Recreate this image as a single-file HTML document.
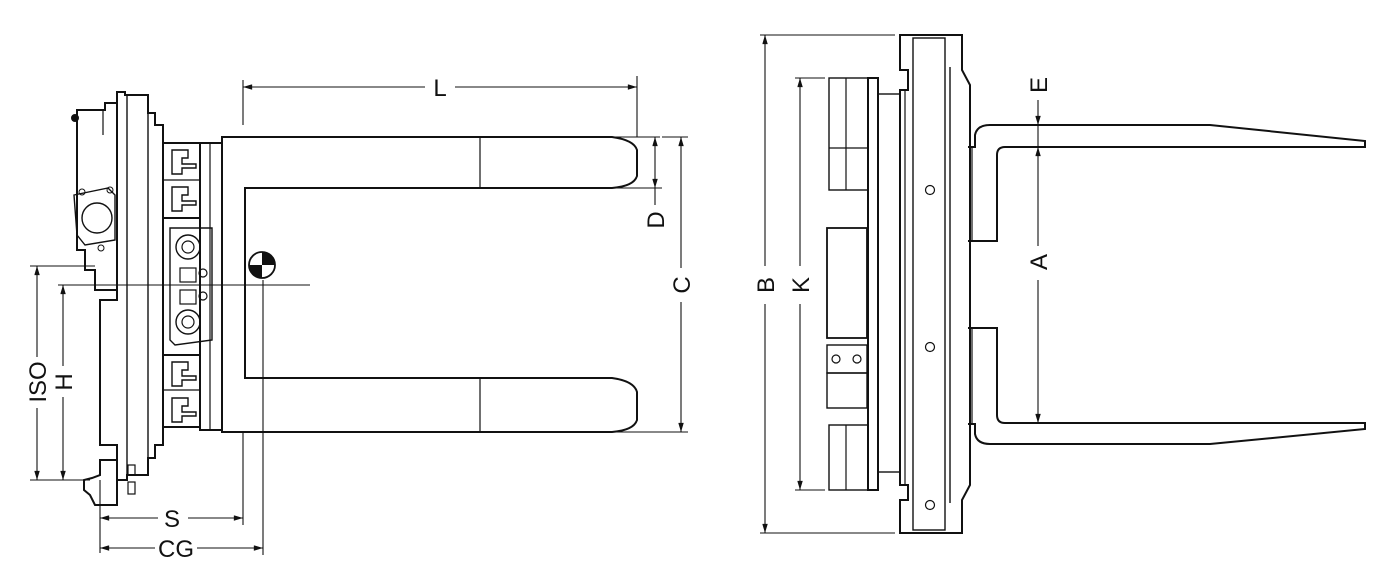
<!DOCTYPE html>
<html><head><meta charset="utf-8"><style>
html,body{margin:0;padding:0;background:#fff;width:1400px;height:585px;overflow:hidden}
svg{display:block}
text{font-family:"Liberation Sans",sans-serif;font-size:24px;fill:#111}
</style></head><body>
<svg width="1400" height="585" viewBox="0 0 1400 585" xmlns="http://www.w3.org/2000/svg">
<defs>
<marker id="a" viewBox="0 0 10 6" refX="10" refY="3" markerWidth="9" markerHeight="5" orient="auto-start-reverse"><path d="M0,0L10,3L0,6z" fill="#111"/></marker>
</defs>
<g fill="none" stroke="#111" stroke-width="2">
<path d="M77,110 L105,110 L105,103 L117,103 L117,290 L95,290 L95,270 L85,270 L85,250 L77,250 Z"/>
<circle cx="75" cy="118" r="3" fill="#111"/>
<path d="M74,195 L108,188 L115,195 L115,240 L85,245 L77,235 Z" stroke-width="1.4"/>
<circle cx="97" cy="218" r="15" stroke-width="1.4"/>
<circle cx="82" cy="192" r="3" stroke-width="1"/><circle cx="110" cy="190" r="3" stroke-width="1"/><circle cx="101" cy="248" r="3" stroke-width="1"/>
<line x1="103" y1="110" x2="103" y2="135" stroke-width="1.2"/>
<path d="M117,92 L125,92 L125,95 L148,95 L148,113 L155,113 L155,125 L163,125 L163,445 L155,445 L155,458 L148,458 L148,475 L127,475 L127,480 L117,480 L117,445 L100,445 L100,300 L117,300 Z"/>
<line x1="127" y1="95" x2="127" y2="475" stroke-width="1.4"/>
<line x1="148" y1="113" x2="148" y2="458" stroke-width="1.4"/>
<path d="M100,460 L117,460 L117,505 L95,505 L90,495 L84,490 L84,480 L92,478 L100,475 Z"/>
<rect x="128" y="465" width="7" height="10" stroke-width="1.2"/><rect x="128" y="482" width="7" height="12" stroke-width="1.2"/>
<rect x="163" y="143" width="37" height="75"/>
<line x1="163" y1="180" x2="200" y2="180" stroke-width="1.2"/>
<path d="M172,150 h16 v8 h-6 v6 h14 v4 h-14 v6 h-10 z" stroke-width="1.4"/>
<path d="M172,187 h16 v8 h-6 v6 h14 v4 h-14 v6 h-10 z" stroke-width="1.4"/>
<rect x="163" y="355" width="37" height="72"/>
<line x1="163" y1="390" x2="200" y2="390" stroke-width="1.2"/>
<path d="M172,362 h16 v8 h-6 v6 h14 v4 h-14 v6 h-10 z" stroke-width="1.4"/>
<path d="M172,398 h16 v8 h-6 v6 h14 v4 h-14 v6 h-10 z" stroke-width="1.4"/>
<path d="M170,228 L212,228 L212,340 L175,345 L170,340 Z" stroke-width="1.4"/>
<circle cx="188" cy="247" r="12" stroke-width="1.4"/><circle cx="188" cy="247" r="6" stroke-width="1.2"/>
<circle cx="188" cy="322" r="12" stroke-width="1.4"/><circle cx="188" cy="322" r="6" stroke-width="1.2"/>
<rect x="180" y="268" width="16" height="14" stroke-width="1.2"/><circle cx="203" cy="273" r="4" stroke-width="1.2"/>
<rect x="180" y="290" width="16" height="14" stroke-width="1.2"/><circle cx="203" cy="296" r="4" stroke-width="1.2"/>
<rect x="200" y="143" width="22" height="287"/>
<line x1="210" y1="143" x2="210" y2="430" stroke-width="1.2"/>
<path d="M222,137 L612,137 Q634,140 637,150 L637,176 Q634,186 612,188 L245,188 L245,378 L612,378 Q634,381 637,392 L637,420 Q634,430 612,432 L222,432 Z"/>
<line x1="480" y1="137" x2="480" y2="188" stroke-width="1.2"/>
<line x1="480" y1="378" x2="480" y2="432" stroke-width="1.2"/>
</g>
<circle cx="262" cy="265" r="13" fill="#fff" stroke="#111" stroke-width="1.8"/>
<path d="M262,252 A13,13 0 0 1 275,265 L262,265 Z" fill="#111"/>
<path d="M262,278 A13,13 0 0 1 249,265 L262,265 Z" fill="#111"/>
<g fill="none" stroke="#111" stroke-width="1.1">
<line x1="30" y1="266" x2="95" y2="266"/>
<line x1="58" y1="285" x2="310" y2="285"/>
<line x1="30" y1="480" x2="90" y2="480"/>
<line x1="243" y1="80" x2="243" y2="125"/><line x1="637" y1="76" x2="637" y2="137"/>
<line x1="243" y1="87" x2="425" y2="87" marker-start="url(#a)"/><line x1="455" y1="87" x2="637" y2="87" marker-end="url(#a)"/>
<line x1="615" y1="137" x2="660" y2="137"/><line x1="615" y1="188" x2="662" y2="188"/>
<line x1="655" y1="137" x2="655" y2="188" marker-start="url(#a)" marker-end="url(#a)"/>
<line x1="655" y1="188" x2="655" y2="205"/>
<line x1="662" y1="137" x2="688" y2="137"/><line x1="615" y1="432" x2="688" y2="432"/>
<line x1="681" y1="137" x2="681" y2="268" marker-start="url(#a)"/><line x1="681" y1="302" x2="681" y2="432" marker-end="url(#a)"/>
<line x1="37" y1="266" x2="37" y2="357" marker-start="url(#a)"/><line x1="37" y1="408" x2="37" y2="480" marker-end="url(#a)"/>
<line x1="63" y1="285" x2="63" y2="366" marker-start="url(#a)"/><line x1="63" y1="397" x2="63" y2="480" marker-end="url(#a)"/>
<line x1="100" y1="480" x2="100" y2="553"/>
<line x1="243" y1="432" x2="243" y2="525"/>
<line x1="263" y1="280" x2="263" y2="555"/>
<line x1="100" y1="518" x2="158" y2="518" marker-start="url(#a)"/><line x1="188" y1="518" x2="243" y2="518" marker-end="url(#a)"/>
<line x1="100" y1="548" x2="155" y2="548" marker-start="url(#a)"/><line x1="197" y1="548" x2="263" y2="548" marker-end="url(#a)"/>
</g>
<text x="440" y="96" text-anchor="middle">L</text>
<text x="172" y="527" text-anchor="middle">S</text>
<text x="176" y="557" text-anchor="middle">CG</text>
<text transform="translate(664,220) rotate(-90)" text-anchor="middle">D</text>
<text transform="translate(690,285) rotate(-90)" text-anchor="middle">C</text>
<text transform="translate(46,382) rotate(-90)" text-anchor="middle">ISO</text>
<text transform="translate(72,382) rotate(-90)" text-anchor="middle">H</text>

<g fill="none" stroke="#111" stroke-width="2">
<path d="M900,35 L962,35 L962,70 L970,85 L970,485 L962,500 L962,533 L900,533 L900,500 L908,500 L908,485 L900,485 L900,90 L908,90 L908,70 L900,70 Z"/>
<rect x="913" y="38" width="32" height="492" stroke-width="1.4"/>
<line x1="950" y1="67" x2="950" y2="503" stroke-width="1.4"/>
<line x1="905" y1="90" x2="905" y2="485" stroke-width="1.2"/>
<circle cx="930" cy="190" r="4.5" stroke-width="1.2"/><circle cx="930" cy="347" r="4.5" stroke-width="1.2"/><circle cx="930" cy="505" r="4.5" stroke-width="1.2"/>
<rect x="868" y="78" width="10" height="412"/>
<rect x="878" y="94" width="22" height="378" stroke-width="1.4"/>
<rect x="829" y="78" width="39" height="112" stroke-width="1.4"/>
<line x1="846" y1="78" x2="846" y2="190" stroke-width="1.2"/><line x1="829" y1="148" x2="868" y2="148" stroke-width="1.2"/>
<rect x="829" y="425" width="39" height="65" stroke-width="1.4"/>
<line x1="846" y1="425" x2="846" y2="490" stroke-width="1.2"/>
<rect x="827" y="228" width="40" height="110" stroke-width="1.8"/>
<rect x="827" y="345" width="40" height="28" stroke-width="1.4"/>
<circle cx="836" cy="359" r="4" stroke-width="1.2"/><circle cx="857" cy="359" r="4" stroke-width="1.2"/>
<rect x="827" y="373" width="40" height="35" stroke-width="1.4"/>
<path d="M968,147 L975,147 L975,135 Q977,125 990,125 L1210,125 L1365,141 L1365,147 L1005,147 Q997,147 997,155 L997,241 L968,241"/>
<path d="M968,328 L997,328 L997,415 Q997,423 1005,423 L1365,423 L1365,429 L1210,444 L990,444 Q977,444 975,434 L975,424 L968,424"/>
<line x1="972" y1="147" x2="972" y2="241" stroke-width="1.2"/>
<line x1="972" y1="328" x2="972" y2="424" stroke-width="1.2"/>
</g>
<g fill="none" stroke="#111" stroke-width="1.1">
<line x1="760" y1="35" x2="895" y2="35"/><line x1="760" y1="533" x2="895" y2="533"/>
<line x1="765" y1="35" x2="765" y2="266" marker-start="url(#a)"/><line x1="765" y1="304" x2="765" y2="533" marker-end="url(#a)"/>
<line x1="795" y1="78" x2="825" y2="78"/><line x1="795" y1="490" x2="825" y2="490"/>
<line x1="800" y1="78" x2="800" y2="266" marker-start="url(#a)"/><line x1="800" y1="304" x2="800" y2="490" marker-end="url(#a)"/>
<line x1="1038" y1="100" x2="1038" y2="125" marker-end="url(#a)"/>
<line x1="1038" y1="125" x2="1038" y2="147"/>
<line x1="1038" y1="147" x2="1038" y2="246" marker-start="url(#a)"/><line x1="1038" y1="280" x2="1038" y2="423" marker-end="url(#a)"/>
</g>
<text transform="translate(774,285) rotate(-90)" text-anchor="middle">B</text>
<text transform="translate(809,285) rotate(-90)" text-anchor="middle">K</text>
<text transform="translate(1047,262) rotate(-90)" text-anchor="middle">A</text>
<text transform="translate(1047,85) rotate(-90)" text-anchor="middle">E</text>
</svg>
</body></html>
